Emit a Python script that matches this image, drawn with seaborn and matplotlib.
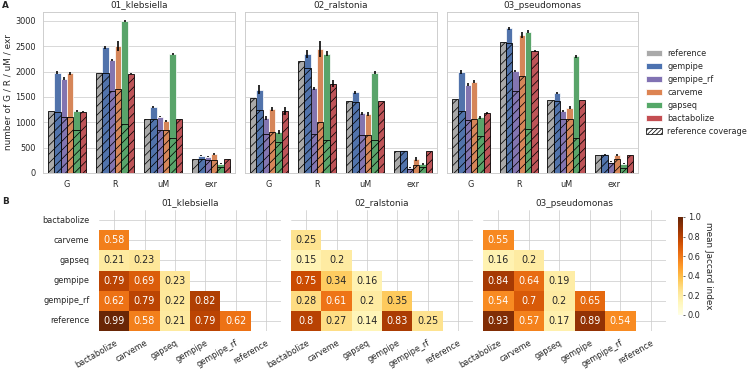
import numpy as np
import pandas as pd
import matplotlib
matplotlib.use('Agg')
import matplotlib.pyplot as plt
from matplotlib.patches import Patch
import seaborn as sns

# ==========================================
# data
# ==========================================
organisms = ['01_klebsiella', '02_ralstonia', '03_pseudomonas']
tools = ['reference', 'gempipe', 'gempipe_rf', 'carveme', 'gapseq', 'bactabolize']
metrics = ['G', 'R', 'uM', 'exr']

# total counts per tool, columns = G, R, uM, exr
kleb_total = [[1230, 1980, 1060, 285],
              [1980, 2480, 1310, 340],
              [1855, 2235, 1110, 320],
              [1970, 2510, 1025, 375],
              [1230, 3000, 2350, 185],
              [1210, 1960, 1060, 285]]
kleb_cov = [[1230, 1980, 1060, 285],
            [1210, 1970, 1060, 285],
            [1095, 1615, 840, 265],
            [1100, 1650, 840, 265],
            [840, 970, 700, 120],
            [1210, 1960, 1060, 285]]
kleb_err = [[0, 0, 0, 0],
            [30, 25, 20, 10],
            [30, 20, 15, 10],
            [30, 100, 25, 20],
            [20, 25, 20, 15],
            [10, 10, 0, 0]]

rals_total = [[1475, 2215, 1430, 440],
              [1640, 2340, 1590, 450],
              [1080, 1675, 1180, 100],
              [1260, 2450, 1160, 285],
              [800, 2350, 1975, 170],
              [1225, 1760, 1430, 440]]
rals_cov = [[1475, 2215, 1430, 440],
            [1240, 2070, 1410, 440],
            [770, 770, 750, 85],
            [815, 1000, 750, 150],
            [615, 660, 650, 120],
            [1225, 1760, 1430, 440]]
rals_err = [[0, 0, 0, 0],
            [90, 80, 30, 5],
            [40, 30, 30, 10],
            [40, 160, 40, 40],
            [40, 50, 30, 20],
            [80, 70, 0, 0]]

pseu_total = [[1455, 2590, 1440, 350],
              [1985, 2855, 1575, 370],
              [1740, 2020, 1225, 220],
              [1805, 2715, 1290, 350],
              [1095, 2790, 2305, 185],
              [1180, 2405, 1440, 350]]
pseu_cov = [[1455, 2590, 1440, 350],
            [1230, 2570, 1430, 350],
            [1045, 1620, 1065, 200],
            [1065, 1920, 1065, 270],
            [730, 860, 700, 100],
            [1180, 2405, 1440, 350]]
pseu_err = [[0, 0, 0, 0],
            [40, 30, 25, 10],
            [30, 20, 25, 10],
            [25, 60, 30, 15],
            [20, 25, 30, 10],
            [20, 20, 0, 0]]

totals = [kleb_total, rals_total, pseu_total]
covers = [kleb_cov, rals_cov, pseu_cov]
errors = [kleb_err, rals_err, pseu_err]

# mean jaccard, lower triangle (rows carveme..reference)
jac_labels = ['bactabolize', 'carveme', 'gapseq', 'gempipe', 'gempipe_rf', 'reference']
kleb_jac = [[0.58],
            [0.21, 0.23],
            [0.79, 0.69, 0.23],
            [0.62, 0.79, 0.22, 0.82],
            [0.99, 0.58, 0.21, 0.79, 0.62]]
rals_jac = [[0.25],
            [0.15, 0.2],
            [0.75, 0.34, 0.16],
            [0.28, 0.61, 0.2, 0.35],
            [0.8, 0.27, 0.14, 0.83, 0.25]]
pseu_jac = [[0.55],
            [0.16, 0.2],
            [0.84, 0.64, 0.19],
            [0.54, 0.7, 0.2, 0.65],
            [0.93, 0.57, 0.17, 0.89, 0.54]]
jaccards = [kleb_jac, rals_jac, pseu_jac]

# ==========================================
# style
# ==========================================
sns.set_theme(style="whitegrid")
deep = sns.color_palette('deep')
palette = {'reference': '#A9A9A9', 'gempipe': deep[0], 'gempipe_rf': deep[4],
           'carveme': deep[1], 'gapseq': deep[2], 'bactabolize': deep[3]}

W, H = 750, 369
fig = plt.figure(figsize=(W / 53, H / 53), dpi=53)

def px_axes(x0, y0, x1, y1, **kw):
    return fig.add_axes([x0 / W, 1 - y1 / H, (x1 - x0) / W, (y1 - y0) / H], **kw)

def to_long(rows):
    recs = []
    for t, row in zip(tools, rows):
        for m, v in zip(metrics, row):
            recs.append({'metric': m, 'tool': t, 'value': v})
    return pd.DataFrame(recs)

# ==========================================
# A: bar charts
# ==========================================
bar_x = [(43, 235), (245, 437), (447, 638)]
top_axes = []
for i, org in enumerate(organisms):
    ax = px_axes(bar_x[i][0], 12, bar_x[i][1], 173,
                 sharey=top_axes[0] if top_axes else None)
    top_axes.append(ax)
    df_tot = to_long(totals[i])
    df_cov = to_long(covers[i])

    sns.barplot(data=df_tot, x='metric', y='value', hue='tool', hue_order=tools,
                palette=palette, saturation=0.9, errorbar=None, ax=ax,
                legend=False, zorder=2)
    bar_conts = list(ax.containers)
    # error bars on top of the total bars
    err = np.array(errors[i])
    for k, cont in enumerate(bar_conts):
        xs = [b.get_x() + b.get_width() / 2 for b in cont]
        ys = [b.get_height() for b in cont]
        ax.errorbar(xs, ys, yerr=err[k], fmt='none', ecolor='black', elinewidth=2.2, zorder=5)

    sns.barplot(data=df_cov, x='metric', y='value', hue='tool', hue_order=tools,
                palette=palette, saturation=0.9, errorbar=None, ax=ax, legend=False,
                hatch='//', edgecolor='black', linewidth=1.1, zorder=3)

    ax.set_title(org, fontsize=12)
    ax.set_xlabel('')
    if i == 0:
        ax.set_ylabel('number of G / R / uM / exr', fontsize=12)
    else:
        ax.set_ylabel('')
        ax.tick_params(axis='y', labelleft=False)

top_axes[0].set_yticks([0, 500, 1000, 1500, 2000, 2500, 3000])

handles = [Patch(facecolor=palette[t], label=t) for t in tools]
handles.append(Patch(facecolor='white', edgecolor='black', hatch='////', label='reference coverage'))
fig.legend(handles=handles, loc='center left', bbox_to_anchor=(0.851, 0.75),
           frameon=False, fontsize=11, handletextpad=0.7)

# ==========================================
# B: jaccard heatmaps
# ==========================================
heat_x = [(99, 281), (291, 473), (483, 666)]
cax = px_axes(678, 217, 683, 315)
n = len(jac_labels)
for i, org in enumerate(organisms):
    ax = px_axes(heat_x[i][0], 210, heat_x[i][1], 331)
    mat = np.full((n, n), np.nan)
    for r, row in enumerate(jaccards[i]):
        mat[r + 1, :len(row)] = row
    df_j = pd.DataFrame(mat, index=jac_labels, columns=jac_labels)
    mask = np.triu(np.ones((n, n), dtype=bool))
    sns.heatmap(df_j, mask=mask, cmap='YlOrBr', vmin=0, vmax=1, annot=True,
                annot_kws={'fontsize': 13}, ax=ax, cbar=(i == 2),
                cbar_ax=cax if i == 2 else None)
    ax.grid(True)
    ax.set_axisbelow(True)
    ax.set_title(org, fontsize=12)
    ax.set_xticklabels(jac_labels, rotation=30, ha='right', rotation_mode='anchor')
    if i == 0:
        ax.set_yticklabels(jac_labels, rotation=0)
        ax.tick_params(axis='y', pad=7)
    else:
        ax.set_yticklabels([])

cax.set_ylabel('mean Jaccard index', rotation=270, va='bottom', fontsize=12)
cax.tick_params(labelsize=11, length=3, width=1, color='#333333')
cax.set_yticks([0, 0.2, 0.4, 0.6, 0.8, 1.0])

fig.text(2 / W, 1 - 6 / H, 'A', fontsize=12, fontweight='bold', va='center')
fig.text(2 / W, 1 - 201 / H, 'B', fontsize=12, fontweight='bold', va='center')

plt.savefig('out.png', dpi=53)
plt.close()
